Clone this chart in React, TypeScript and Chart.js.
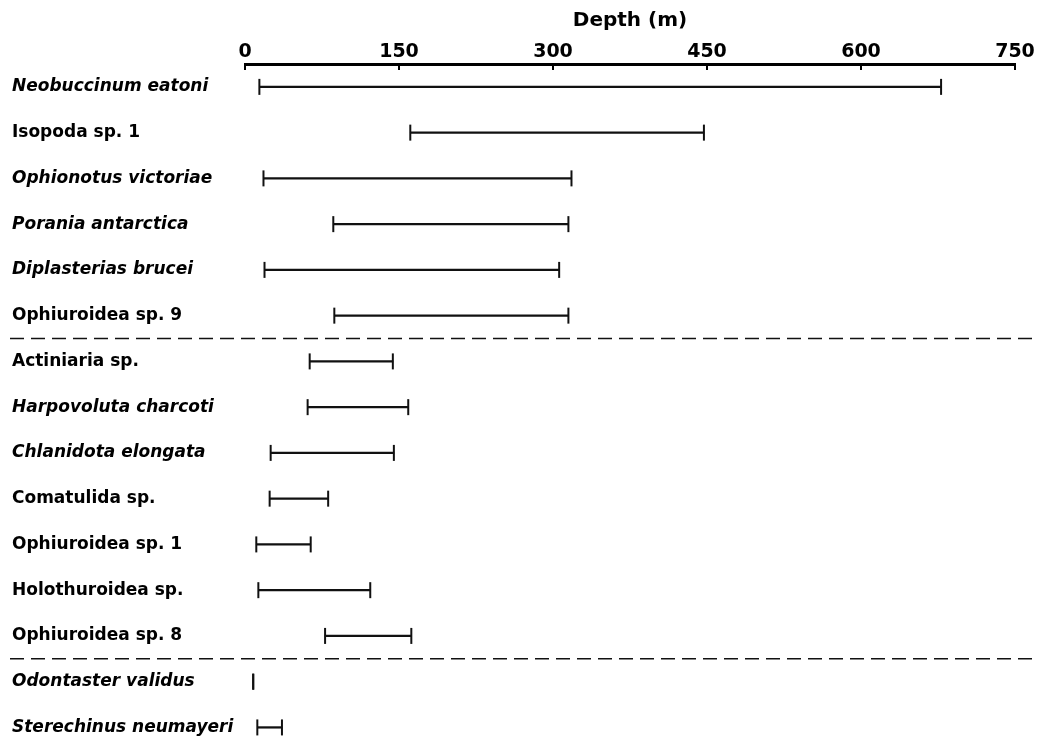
import React, { useEffect, useRef } from 'react';
import { Chart, registerables } from 'chart.js';

Chart.register(...registerables);

// ---- data ----
const species = [
  'Neobuccinum eatoni',
  'Isopoda sp. 1',
  'Ophionotus victoriae',
  'Porania antarctica',
  'Diplasterias brucei',
  'Ophiuroidea sp. 9',
  'Actiniaria sp.',
  'Harpovoluta charcoti',
  'Chlanidota elongata',
  'Comatulida sp.',
  'Ophiuroidea sp. 1',
  'Holothuroidea sp.',
  'Ophiuroidea sp. 8',
  'Odontaster validus',
  'Sterechinus neumayeri',
];
const italicName = [true, false, true, true, true, false, false, true, true, false, false, false, false, true, true];
const depthMin = [14, 161, 18, 86, 19, 87, 63, 61, 25, 24, 11, 13, 78, 8, 12];
const depthMax = [678, 447, 318, 315, 306, 315, 144, 159, 145, 81, 64, 122, 162, 8, 36];
const depthTickStep = 150;
const depthAxisMax = 750;
const separatorsAfter = [5, 12];

const FONT = 'DejaVu Sans';
const Y_MIN = -0.5;
const Y_MAX = 14.03;

const separatorPlugin = {
  id: 'groupSeparators',
  afterDatasetsDraw(chart: any) {
    const y = chart.scales.y;
    const ctx = chart.ctx;
    ctx.save();
    ctx.strokeStyle = '#111';
    ctx.lineWidth = 1.5;
    ctx.setLineDash([14, 7]);
    for (const k of separatorsAfter) {
      const py = y.getPixelForValue(k + 0.5);
      ctx.beginPath();
      ctx.moveTo(10, py);
      ctx.lineTo(chart.width - 6, py);
      ctx.stroke();
    }
    ctx.restore();
  },
};

export default function App() {
  const ref = useRef<HTMLCanvasElement | null>(null);

  useEffect(() => {
    if (!ref.current) return;
    const rangeData = species.map((_, i) => ({ x: [depthMin[i], depthMax[i]], y: i }));
    const capData = species
      .map((_, i) => [
        { x: depthMin[i], y: i },
        { x: depthMax[i], y: i },
      ])
      .flat();

    const chart = new Chart(ref.current, {
      type: 'bar',
      data: {
        datasets: [
          {
            type: 'bar',
            data: rangeData as any,
            backgroundColor: '#111',
            borderWidth: 0,
            barThickness: 1.6,
            indexAxis: 'y',
            clip: false,
          } as any,
          {
            type: 'scatter',
            data: capData as any,
            showLine: false,
            pointStyle: 'line',
            pointRotation: 90,
            pointRadius: 8,
            pointBorderWidth: 2,
            pointBorderColor: '#111',
            pointBackgroundColor: '#111',
            indexAxis: 'y',
            clip: false,
          } as any,
        ],
      },
      options: {
        indexAxis: 'y',
        animation: false,
        responsive: true,
        maintainAspectRatio: false,
        layout: { padding: { left: 12, right: 27, top: 0, bottom: 0 } },
        plugins: {
          legend: { display: false },
          tooltip: { enabled: false },
        },
        scales: {
          x: {
            type: 'linear',
            position: 'top',
            min: 0,
            max: depthAxisMax,
            ticks: {
              stepSize: depthTickStep,
              color: '#000',
              font: { family: FONT, size: 19, weight: 'bold' },
              padding: 7,
              maxRotation: 0,
              autoSkip: false,
            },
            grid: {
              drawOnChartArea: false,
              drawTicks: true,
              tickLength: -6,
              color: '#000',
              lineWidth: 2,
            },
            border: { display: true, color: '#000', width: 3 },
            title: {
              display: true,
              text: 'Depth (m)',
              color: '#000',
              font: { family: FONT, size: 20, weight: 'bold' },
              padding: { top: 9, bottom: 0 },
            },
            afterFit: (s: any) => {
              s.height = 64;
            },
          },
          y: {
            type: 'linear',
            reverse: true,
            offset: false,
            min: Y_MIN,
            max: Y_MAX,
            grid: { display: false },
            border: { display: false },
            afterBuildTicks: (s: any) => {
              s.min = Y_MIN;
              s.max = Y_MAX;
              s.ticks = species.map((_, i) => ({ value: i }));
            },
            ticks: {
              autoSkip: false,
              crossAlign: 'far',
              color: '#000',
              font: (c: any) => ({
                family: FONT,
                size: 17,
                weight: 'bold',
                style: c.tick && italicName[c.tick.value] ? 'italic' : 'normal',
              }),
              callback: (v: any) => (Number.isInteger(v) && species[v] !== undefined ? species[v] : ''),
            },
            afterFit: (s: any) => {
              s.width = 233;
            },
          },
        },
      } as any,
      plugins: [separatorPlugin],
    });
    return () => chart.destroy();
  }, []);

  return (
    <div style={{ position: 'absolute', left: 0, top: 0, width: 1042, height: 742, background: '#fff' }}>
      <canvas ref={ref} />
    </div>
  );
}
